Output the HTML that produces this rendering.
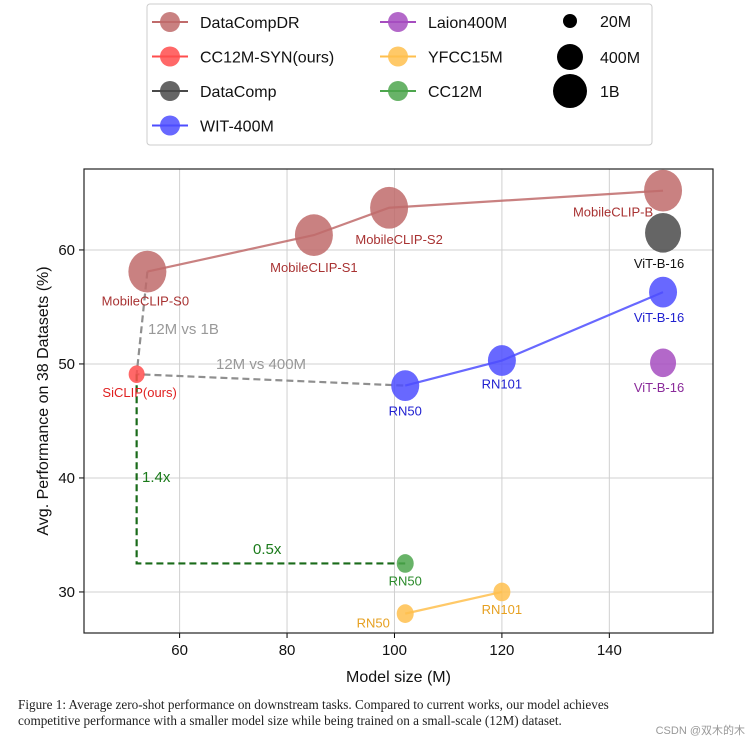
<!DOCTYPE html>
<html><head><meta charset="utf-8"><style>
body{margin:0;background:#fff;width:751px;height:743px;overflow:hidden}
svg{position:absolute;left:0;top:0}
.cap{position:absolute;left:18px;top:697px;width:650px;font-family:"Liberation Serif",serif;font-size:13.2px;line-height:16px;color:#222}
.wm{position:absolute;right:6px;top:722px;font-family:"Liberation Sans","Noto Sans CJK SC",sans-serif;font-size:11px;color:#999;background:#fff}
</style></head><body>
<svg id="chart" width="751" height="743" font-family="Liberation Sans, DejaVu Sans, sans-serif"></svg>
<div class="cap">Figure 1: Average zero-shot performance on downstream tasks. Compared to current works, our model achieves competitive performance with a smaller model size while being trained on a small-scale (12M) dataset.</div>
<div class="wm">CSDN @双木的木</div>
<script>
const xTicks=[60,80,100,120,140];
const yTicks=[30,40,50,60];
const seriesNames=["DataCompDR","CC12M-SYN(ours)","DataComp","WIT-400M","Laion400M","YFCC15M","CC12M"];
const seriesColors=["#c06b6b","#ff4d4d","#4a4a4a","#4d4dff","#a64dbf","#ffbf4d","#4da64d"];
const dcdrX=[54,85,99,150], dcdrY=[58.1,61.3,63.7,65.2], dcdrL=["MobileCLIP-S0","MobileCLIP-S1","MobileCLIP-S2","MobileCLIP-B"];
const synX=[52], synY=[49.1], synL=["SiCLIP(ours)"];
const dcX=[150], dcY=[61.5], dcL=["ViT-B-16"];
const witX=[102,120,150], witY=[48.1,50.3,56.3], witL=["RN50","RN101","ViT-B-16"];
const laionX=[150], laionY=[50.1], laionL=["ViT-B-16"];
const yfccX=[102,120], yfccY=[28.1,30.0], yfccL=["RN50","RN101"];
const ccX=[102], ccY=[32.5], ccL=["RN50"];
const seriesRadius=[19,8,18,14,13,8.5,8.5];
const L=84,R=713,T=169,B=633,xmin=42.2,xmax=159.3,ymin=26.4,ymax=67.1;
const sx=v=>L+(v-xmin)/(xmax-xmin)*(R-L);
const sy=v=>B-(v-ymin)/(ymax-ymin)*(B-T);
const svg=document.getElementById('chart');
const NS='http://www.w3.org/2000/svg';
function mk(tag,attrs,parent){const e=document.createElementNS(NS,tag);for(const k in attrs)e.setAttribute(k,attrs[k]);(parent||svg).appendChild(e);return e;}
function tx(x,y,s,attrs){const e=mk('text',Object.assign({x:x,y:y},attrs));e.textContent=s;return e;}
xTicks.forEach(v=>{const l=mk('line',{x1:sx(v),x2:sx(v),y1:T,y2:B,stroke:'#d0d0d0','stroke-width':1});


mk('line',{x1:sx(v),x2:sx(v),y1:B,y2:B+5,stroke:'#000'});
const t=tx(sx(v),B+22,String(v),{'font-size':15,'text-anchor':'middle',fill:'#111'});

});
yTicks.forEach(v=>{const l=mk('line',{x1:L,x2:R,y1:sy(v),y2:sy(v),stroke:'#d0d0d0','stroke-width':1});


mk('line',{x1:L-5,x2:L,y1:sy(v),y2:sy(v),stroke:'#000'});
const t=tx(L-9,sy(v)+5,String(v),{'font-size':15,'text-anchor':'end',fill:'#111'});

});
const frame=mk('rect',{x:L,y:T,width:R-L,height:B-T,fill:'none',stroke:'#222','stroke-width':1.2});


const xt=tx((L+R)/2,B+49,'Model size (M)',{'font-size':16,'text-anchor':'middle',fill:'#111'});


const yt=tx(0,0,'Avg. Performance on 38 Datasets (%)',{'font-size':16,'text-anchor':'middle',fill:'#111',transform:`translate(48,${(T+B)/2}) rotate(-90)`});


const g1=mk('polyline',{points:`${sx(dcdrX[0])},${sy(dcdrY[0])} ${sx(synX[0])},${sy(synY[0])} ${sx(witX[0])},${sy(witY[0])}`,fill:'none',stroke:'#8f8f8f','stroke-width':2.2,'stroke-dasharray':'7,4'});


const g2=mk('polyline',{points:`${sx(synX[0])},${sy(synY[0])} ${sx(synX[0])},${sy(ccY[0])} ${sx(ccX[0])},${sy(ccY[0])}`,fill:'none',stroke:'#1a6b1a','stroke-width':2.2,'stroke-dasharray':'7,4'});


[['12M vs 1B',148,334,'#999'],['12M vs 400M',216,369,'#999'],['1.4x',142,482,'#1a7a1a'],['0.5x',253,554,'#1a7a1a']].forEach(a=>{
const t=tx(a[1],a[2],a[0],{'font-size':15,fill:a[3]});

});
const all=[[dcdrX,dcdrY,dcdrL],[synX,synY,synL],[dcX,dcY,dcL],[witX,witY,witL],[laionX,laionY,laionL],[yfccX,yfccY,yfccL],[ccX,ccY,ccL]];
const lblOff=[[[-2,34],[0,37],[10,36],[-50,26]],[[3,23]],[[-4,35]],[[0,30],[0,28],[-4,30]],[[-4,29]],[[-32,14],[0,22]],[[0,22]]];
const textColors=["#a83232","#e02020","#111","#2020d0","#8a2a9a","#e6a020","#2a8a2a"];
all.forEach((s,i)=>{
if(s[0].length>1){const pl=mk('polyline',{points:s[0].map((x,j)=>sx(x)+','+sy(s[1][j])).join(' '),fill:'none',stroke:seriesColors[i],'stroke-width':2.2,opacity:0.85});

}
s[0].forEach((x,j)=>{const c=mk('ellipse',{cx:sx(x),cy:sy(s[1][j]),rx:seriesRadius[i],ry:seriesRadius[i]*1.1,fill:seriesColors[i],opacity:0.85});


const o=lblOff[i][j];
const t=tx(sx(x)+o[0],sy(s[1][j])+o[1],s[2][j],{'font-size':13,'text-anchor':'middle',fill:textColors[i]});

});
});
const lg=mk('g',{});


mk('rect',{x:147,y:4,width:505,height:141,rx:3,fill:'#fff',stroke:'#ccc'},lg);
seriesNames.forEach((n,i)=>{const col=i<4?0:1,row=i<4?i:i-4;const x0=col?380:152,y0=22+row*34.5;
const e=mk('g',{},lg);


mk('line',{x1:x0,x2:x0+36,y1:y0,y2:y0,stroke:seriesColors[i],'stroke-width':2},e);
mk('circle',{cx:x0+18,cy:y0,r:10,fill:seriesColors[i],opacity:0.85},e);
const t=mk('text',{x:x0+48,y:y0+6,'font-size':16,fill:'#111'},e);t.textContent=n;});
[['20M',7,21],['400M',13,57],['1B',17,91]].forEach(a=>{const e=mk('g',{},lg);


mk('circle',{cx:570,cy:a[2],r:a[1],fill:'#000'},e);
const t=mk('text',{x:600,y:a[2]+6,'font-size':16,fill:'#111'},e);t.textContent=a[0];});
</script>
</body></html>
